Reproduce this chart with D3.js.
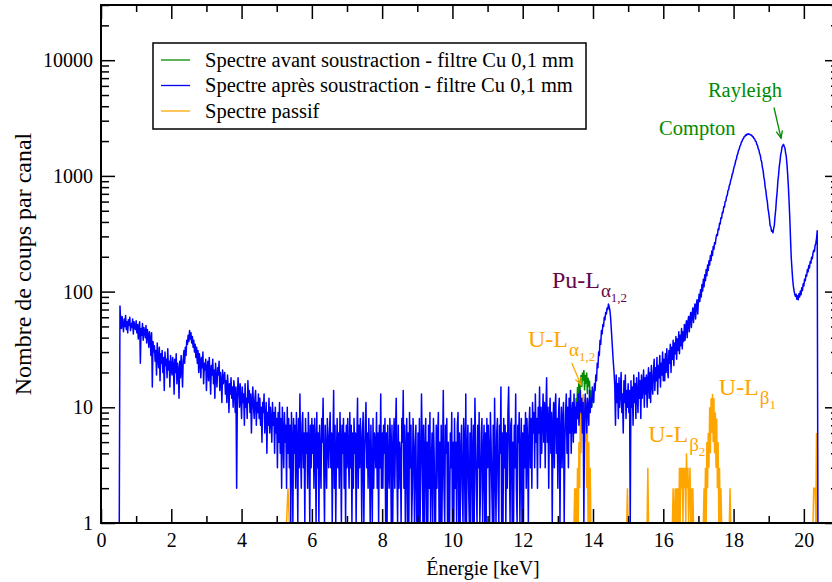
<!DOCTYPE html>
<html>
<head>
<meta charset="utf-8">
<script src="https://cdn.jsdelivr.net/npm/d3@7"></script>
<style>
  body { margin: 0; background: #fff; }
  svg { display: block; }
  svg text { font-family: "Liberation Serif", "DejaVu Serif", serif; }
</style>
</head>
<body>
<svg id="chart" width="832" height="582"></svg>
<script>
// spectrum after subtraction (Cu 0,1 mm), one value every 0.02 keV from 0.52 keV
// each row is 0.5 keV
const energyStart = 0.52;
const energyStep = 0.02;
const countsAfter = [
    0, 75, 56, 48, 61, 52, 45, 58, 50, 62, 47, 55, 44, 57, 51, 60, 46, 53, 49, 58, 43, 55, 50, 47, 56,
    44, 52, 39, 50, 55, 24, 48, 42, 53, 38, 49, 45, 40, 51, 36, 47, 42, 33, 45, 39, 28, 44, 15, 37, 30,
    34, 25, 31, 19, 36, 27, 22, 33, 17, 29, 24, 31, 20, 27, 14, 30, 23, 26, 18, 32, 21, 25, 15, 28, 22,
    19, 27, 23, 13, 26, 20, 29, 16, 24, 21, 12, 25, 18, 28, 22, 15, 26, 31, 24, 33, 28, 38, 35, 42, 37,
    46, 39, 44, 36, 41, 33, 38, 30, 35, 27, 33, 24, 31, 20, 29, 25, 18, 27, 22, 30, 16, 24, 21, 26, 14,
    22, 25, 17, 27, 20, 13, 23, 19, 26, 16, 21, 12, 24, 18, 15, 22, 19, 25, 14, 20, 17, 11, 21, 16, 18,
    20, 13, 17, 11, 19, 15, 9, 16, 13, 18, 12, 15, 10, 17, 14, 9, 15, 2, 12, 18, 14, 10, 16, 12, 8,
    15, 11, 13, 7, 16, 10, 12, 8, 17, 11, 14, 9, 13, 6, 11, 15, 10, 8, 12, 14, 7, 11, 9, 13, 8,
    12, 7, 10, 5, 11, 9, 13, 6, 8, 11, 4, 9, 7, 12, 6, 10, 8, 5, 11, 7, 9, 4, 10, 6, 8,
    3, 9, 5, 11, 4, 8, 2, 10, 6, 3, 9, 5, 7, 2, 10, 4, 8, 3, 7, 0, 9, 5, 0, 8, 4,
    7, 2, 9, 5, 0, 8, 3, 13, 4, 2, 7, 9, 3, 6, 0, 8, 4, 6, 2, 9, 5, 0, 7, 3, 8,
    4, 7, 2, 8, 5, 0, 9, 3, 6, 0, 7, 4, 2, 8, 5, 12, 3, 0, 7, 4, 2, 8, 5, 3, 6,
    9, 3, 6, 0, 5, 14, 2, 7, 0, 4, 8, 3, 6, 2, 9, 5, 0, 7, 4, 8, 2, 6, 0, 7, 3,
    8, 4, 2, 9, 3, 7, 0, 6, 2, 8, 4, 6, 0, 5, 12, 2, 7, 3, 8, 5, 0, 6, 9, 0, 4,
    7, 11, 3, 6, 2, 8, 4, 0, 7, 3, 0, 8, 2, 6, 5, 3, 9, 2, 6, 0, 7, 3, 13, 2, 6,
    2, 7, 4, 8, 0, 6, 0, 7, 3, 2, 8, 5, 0, 7, 0, 4, 8, 2, 6, 12, 3, 0, 7, 2, 5,
    4, 0, 8, 5, 14, 2, 7, 0, 4, 8, 0, 6, 0, 9, 3, 7, 0, 2, 8, 5, 0, 4, 7, 0, 0,
    6, 0, 8, 0, 3, 13, 5, 0, 7, 0, 4, 8, 0, 5, 0, 7, 2, 9, 0, 3, 6, 0, 8, 4, 0,
    0, 7, 2, 6, 9, 0, 5, 0, 7, 0, 4, 14, 2, 0, 7, 4, 8, 0, 5, 0, 0, 6, 3, 9, 0,
    5, 0, 8, 2, 5, 0, 7, 9, 0, 6, 0, 4, 7, 2, 0, 8, 5, 0, 13, 0, 4, 7, 2, 0, 6,
    0, 8, 4, 0, 7, 0, 12, 5, 2, 0, 7, 3, 9, 0, 2, 6, 8, 0, 4, 7, 0, 6, 0, 8, 3,
    7, 4, 0, 9, 5, 2, 0, 7, 0, 12, 3, 0, 6, 8, 2, 0, 7, 4, 15, 0, 6, 0, 8, 3, 7,
    0, 6, 2, 9, 15, 4, 0, 7, 8, 0, 5, 0, 7, 3, 13, 2, 0, 7, 5, 9, 0, 4, 8, 0, 6,
    0, 7, 3, 9, 2, 8, 5, 0, 7, 10, 3, 8, 2, 11, 6, 9, 3, 13, 5, 8, 2, 10, 6, 15, 3,
    10, 4, 8, 13, 5, 11, 3, 9, 18, 5, 10, 2, 8, 12, 4, 9, 0, 7, 11, 3, 10, 13, 4, 8, 2,
    9, 12, 0, 6, 10, 3, 8, 11, 0, 5, 9, 13, 4, 10, 3, 12, 6, 14, 4, 9, 11, 5, 13, 6, 10,
    6, 11, 8, 13, 7, 10, 14, 9, 12, 6, 11, 0, 8, 13, 9, 6, 12, 10, 7, 14, 9, 12, 10, 15, 12,
    11, 16, 14, 19, 17, 24, 22, 30, 28, 38, 35, 46, 43, 52, 50, 60, 57, 66, 64, 72, 70, 78, 74, 69, 60,
    48, 38, 30, 24, 20, 15, 7, 19, 11, 16, 8, 18, 10, 14, 20, 9, 13, 6, 17, 11, 19, 8, 14, 10, 16,
    9, 14, 0, 17, 10, 15, 7, 19, 11, 16, 8, 18, 13, 9, 20, 12, 17, 8, 19, 12, 15, 21, 10, 18, 13,
    19, 10, 17, 22, 12, 20, 11, 23, 16, 13, 21, 26, 14, 22, 17, 27, 13, 23, 18, 28, 15, 24, 19, 30, 17,
    26, 17, 29, 20, 32, 22, 18, 31, 24, 35, 20, 33, 26, 38, 23, 36, 29, 41, 26, 39, 31, 45, 29, 42, 34,
    48, 32, 45, 37, 52, 38, 50, 56, 40, 54, 61, 45, 59, 66, 49, 64, 72, 54, 70, 78, 58, 76, 85, 64, 82,
    95, 82, 104, 90, 115, 101, 128, 110, 140, 124, 155, 137, 170, 152, 185, 170, 205, 186, 224, 205, 245, 232, 265, 258, 290,
    312, 305, 348, 342, 390, 384, 435, 430, 485, 480, 540, 538, 600, 605, 665, 676, 745, 760, 828, 850, 925, 950, 1030, 1062, 1145,
    1210, 1255, 1352, 1400, 1505, 1550, 1660, 1700, 1810, 1845, 1950, 1980, 2075, 2095, 2180, 2185, 2255, 2245, 2300, 2280, 2310, 2285, 2295, 2260, 2255,
    2240, 2175, 2180, 2100, 2090, 2000, 1985, 1870, 1840, 1720, 1680, 1560, 1510, 1380, 1320, 1185, 1115, 985, 915, 795, 742, 648, 600, 520, 478,
    428, 372, 362, 333, 336, 322, 350, 374, 448, 512, 630, 728, 895, 1015, 1205, 1330, 1520, 1620, 1780, 1825, 1875, 1805, 1745, 1585, 1465,
    1250, 1020, 800, 600, 430, 290, 200, 160, 130, 112, 102, 95, 91, 95, 86, 92, 85, 96, 90, 101, 94, 108, 102, 117, 112,
    128, 124, 140, 136, 155, 148, 168, 160, 182, 176, 198, 192, 215, 228, 222, 250, 262, 285, 335, 0
];

// spectrum before subtraction, only where it shows above the blue one
const greenEnergy = [
    13.48, 13.50, 13.52, 13.54, 13.56, 13.58, 13.60, 13.62, 13.64, 13.66, 13.68, 13.70, 13.72,
    13.74, 13.76, 13.78, 13.80, 13.82, 13.84, 13.86, 13.88, 13.90, 13.92, 13.94, 13.96, 13.98
];
const greenCounts = [9, 7, 12, 10, 15, 13, 17, 12, 16, 19, 15, 20, 17, 21, 14, 19, 16, 20, 13, 18, 15, 17, 12, 14, 10, 12];

// passive spectrum
const passiveEnergy = [
    5.28, 5.32, 5.36,
    13.46, 13.48, 13.50, 13.52, 13.54, 13.56, 13.58, 13.60, 13.62, 13.64, 13.66, 13.68, 13.70,
    13.72, 13.74, 13.76, 13.78, 13.80, 13.82, 13.84, 13.86, 13.88, 13.90, 13.92, 13.94, 13.96,
    14.96, 14.98, 15.00,
    15.54, 15.56, 15.58,
    16.26, 16.28, 16.30, 16.32, 16.34, 16.36, 16.38, 16.40, 16.42, 16.44, 16.46, 16.48, 16.50, 16.52, 16.54, 16.56,
    16.58, 16.60, 16.62, 16.64, 16.66, 16.68, 16.70, 16.72, 16.74, 16.76, 16.78, 16.80, 16.82, 16.84, 16.86,
    17.14, 17.16, 17.18, 17.20, 17.22, 17.24, 17.26, 17.28, 17.30, 17.32, 17.34, 17.36, 17.38, 17.40,
    17.42, 17.44, 17.46, 17.48, 17.50, 17.52, 17.54, 17.56, 17.58, 17.60, 17.62, 17.64, 17.66,
    17.88, 17.90, 17.92,
    20.26, 20.28, 20.30, 20.32, 20.34, 20.36, 20.38
];
const passiveCounts = [
    0, 2, 0,
    0, 2, 0, 2, 1, 3, 0, 5, 2, 9, 4, 12, 6,
    13, 3, 12, 5, 10, 2, 7, 0, 5, 1, 3, 0, 0,
    0, 2, 0,
    0, 3, 0,
    0, 2, 0, 0, 2, 0, 2, 1, 2, 0, 3, 1, 3, 2, 3, 0,
    3, 2, 3, 1, 4, 2, 3, 0, 2, 3, 0, 2, 0, 2, 0,
    0, 2, 0, 3, 1, 5, 2, 6, 3, 10, 4, 12, 6, 13,
    5, 12, 4, 9, 3, 8, 2, 5, 1, 3, 0, 2, 0,
    0, 2, 0,
    0, 2, 2, 2, 0, 6, 0
];

const xMajorTicks = [0, 2, 4, 6, 8, 10, 12, 14, 16, 18, 20];
const xMinorTicks = [1, 3, 5, 7, 9, 11, 13, 15, 17, 19, 21];
const yMajorTicks = [1, 10, 100, 1000, 10000];
const yTickLabels = ['1', '10', '100', '1000', '10000'];

const legendLabels = [
    'Spectre avant soustraction - filtre Cu 0,1 mm',
    'Spectre après soustraction - filtre Cu 0,1 mm',
    'Spectre passif'
];

// peak labels, anchored in data units (keV, counts)
const peakLabels = [
    { text: 'Compton', sub: '', subsub: '', e: 15.88, c: 2250, kind: 'scatter' },
    { text: 'Rayleigh', sub: '', subsub: '', e: 17.27, c: 4800, kind: 'scatter' },
    { text: 'Pu-L', sub: 'α', subsub: '1,2', e: 12.83, c: 107, kind: 'pu' },
    { text: 'U-L', sub: 'α', subsub: '1,2', e: 12.15, c: 33, kind: 'u' },
    { text: 'U-L', sub: 'β', subsub: '1', e: 17.58, c: 12.8, kind: 'u' },
    { text: 'U-L', sub: 'β', subsub: '2', e: 15.57, c: 5.0, kind: 'u' }
];
const peakArrows = [
    { e0: 19.15, c0: 3900, e1: 19.35, c1: 2120, kind: 'scatter' },
    { e0: 13.40, c0: 24, e1: 13.66, c1: 15.6, kind: 'u' }
];

const colors = {
    green: '#008b00',
    blue: '#0000ff',
    orange: '#ffa500',
    maroon: '#670748'
};
const kindColor = { scatter: colors.green, pu: colors.maroon, u: colors.orange };
const serif = '"Liberation Serif", "DejaVu Serif", serif';

const svg = d3.select('#chart');
const x0 = 101, x1 = 839, yTop = 5, yBottom = 523;

const x = d3.scaleLinear().domain([0, 21]).range([x0, x1]);
const y = d3.scaleLog().domain([1, 30000]).range([yBottom, yTop]);

svg.append('defs').append('clipPath').attr('id', 'plot-clip')
    .append('rect')
    .attr('x', x0).attr('y', yTop)
    .attr('width', x1 - x0).attr('height', yBottom - yTop);

const plot = svg.append('g').attr('clip-path', 'url(#plot-clip)');

// zero counts sit on the bottom axis
const line = d3.line()
    .x((d) => x(d[0]))
    .y((d) => y(Math.max(d[1], 1)));

const afterData = countsAfter.map((c, i) => [energyStart + i * energyStep, c]);
const beforeData = greenEnergy.map((e, i) => [e, greenCounts[i]]);
const passiveData = passiveEnergy.map((e, i) => [e, passiveCounts[i]]);

plot.append('path').datum(beforeData)
    .attr('d', line).attr('fill', 'none')
    .attr('stroke', colors.green).attr('stroke-width', 1.5);
plot.append('path').datum(passiveData)
    .attr('d', line).attr('fill', 'none')
    .attr('stroke', colors.orange).attr('stroke-width', 1.5);
plot.append('path').datum(afterData)
    .attr('d', line).attr('fill', 'none')
    .attr('stroke', colors.blue).attr('stroke-width', 1.5)
    .attr('stroke-linejoin', 'round');

// axes, ticks pointing inward on all four sides
const yMinorTicks = [];
yMajorTicks.forEach((m) => {
    for (let k = 2; k <= 9; k++) {
        if (m * k <= 30000) yMinorTicks.push(m * k);
    }
});

function styleAxis(g) {
    g.select('.domain').remove();
    g.selectAll('.tick line').attr('stroke', '#000').attr('stroke-width', 1.5);
    g.selectAll('.tick text').attr('fill', '#000')
        .style('font-family', serif).style('font-size', '20px');
}

svg.append('g').attr('transform', `translate(0,${yBottom})`)
    .call(d3.axisBottom(x).tickValues(xMajorTicks).tickSize(-14).tickPadding(10).tickFormat(d3.format('d')))
    .call(styleAxis);
svg.append('g').attr('transform', `translate(0,${yBottom})`)
    .call(d3.axisBottom(x).tickValues(xMinorTicks).tickSize(-7).tickFormat(''))
    .call(styleAxis);
svg.append('g').attr('transform', `translate(0,${yTop})`)
    .call(d3.axisTop(x).tickValues(xMajorTicks).tickSize(-14).tickFormat(''))
    .call(styleAxis);
svg.append('g').attr('transform', `translate(0,${yTop})`)
    .call(d3.axisTop(x).tickValues(xMinorTicks).tickSize(-7).tickFormat(''))
    .call(styleAxis);

svg.append('g').attr('transform', `translate(${x0},0)`)
    .call(d3.axisLeft(y).tickValues(yMajorTicks).tickSize(-14).tickPadding(8)
        .tickFormat((d, i) => yTickLabels[i]))
    .call(styleAxis);
svg.append('g').attr('transform', `translate(${x0},0)`)
    .call(d3.axisLeft(y).tickValues(yMinorTicks).tickSize(-8).tickFormat(''))
    .call(styleAxis);
svg.append('g').attr('transform', `translate(${x1},0)`)
    .call(d3.axisRight(y).tickValues(yMajorTicks).tickSize(-14).tickFormat(''))
    .call(styleAxis);
svg.append('g').attr('transform', `translate(${x1},0)`)
    .call(d3.axisRight(y).tickValues(yMinorTicks).tickSize(-8).tickFormat(''))
    .call(styleAxis);

svg.append('rect')
    .attr('x', x0).attr('y', yTop)
    .attr('width', x1 - x0).attr('height', yBottom - yTop)
    .attr('fill', 'none').attr('stroke', '#000').attr('stroke-width', 2);

// axis titles
svg.append('text')
    .attr('x', 483).attr('y', 575)
    .attr('text-anchor', 'middle').style('font-size', '20px')
    .text('Énergie [keV]');
svg.append('text')
    .attr('transform', `translate(31,${(yTop + yBottom) / 2}) rotate(-90)`)
    .attr('text-anchor', 'middle').style('font-size', '24px')
    .text('Nombre de coups par canal');

// legend
const legend = svg.append('g').attr('transform', 'translate(153,43)');
legend.append('rect')
    .attr('width', 433).attr('height', 86)
    .attr('fill', '#fff').attr('stroke', '#000').attr('stroke-width', 1.5);
const legendColors = [colors.green, colors.blue, colors.orange];
legendLabels.forEach((label, i) => {
    const row = legend.append('g').attr('transform', `translate(0,${17 + i * 25.5})`);
    row.append('line')
        .attr('x1', 8).attr('x2', 37)
        .attr('stroke', legendColors[i]).attr('stroke-width', 1.3);
    row.append('text')
        .attr('x', 52).attr('dy', '0.33em')
        .style('font-size', '20.5px')
        .text(label);
});

// peak labels
peakLabels.forEach((p) => {
    const big = p.kind === 'scatter' ? 20.5 : 24;
    const t = svg.append('text')
        .attr('x', x(p.e)).attr('y', y(p.c))
        .attr('fill', kindColor[p.kind])
        .style('font-size', big + 'px')
        .text(p.text);
    if (p.sub) {
        t.append('tspan').attr('dx', 1).attr('dy', 9).style('font-size', '19px').text(p.sub);
        t.append('tspan').attr('dy', 5).style('font-size', '13px').text(p.subsub);
    }
});

// arrows with open heads
peakArrows.forEach((a) => {
    const ax = x(a.e0), ay = y(a.c0), bx = x(a.e1), by = y(a.c1);
    const ang = Math.atan2(by - ay, bx - ax);
    const head = 8, spread = 0.4;
    const g = svg.append('g').attr('stroke', kindColor[a.kind]).attr('stroke-width', 1.3).attr('fill', 'none');
    g.append('line').attr('x1', ax).attr('y1', ay).attr('x2', bx).attr('y2', by);
    g.append('path').attr('d',
        `M${bx - head * Math.cos(ang - spread)},${by - head * Math.sin(ang - spread)}` +
        `L${bx},${by}` +
        `L${bx - head * Math.cos(ang + spread)},${by - head * Math.sin(ang + spread)}`);
});
</script>
</body>
</html>
